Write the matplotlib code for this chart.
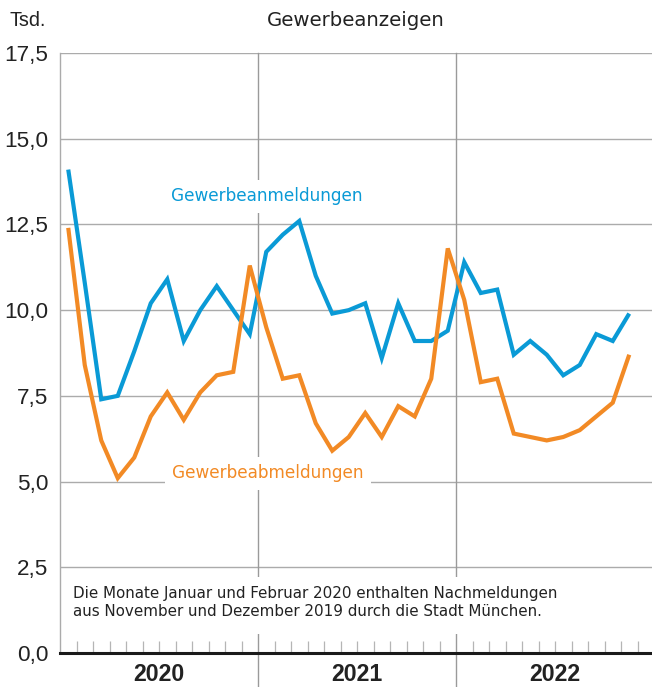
import matplotlib
matplotlib.use("Agg")
import matplotlib.pyplot as plt
import numpy as np
from matplotlib.patches import Rectangle

# ---------------- data ----------------
years = ["2020", "2021", "2022"]
anmeldungen = [14.1, 10.8, 7.4, 7.5, 8.8, 10.2, 10.9, 9.1, 10.0, 10.7, 10.0, 9.3,
               11.7, 12.2, 12.6, 11.0, 9.9, 10.0, 10.2, 8.6, 10.2, 9.1, 9.1, 9.4,
               11.4, 10.5, 10.6, 8.7, 9.1, 8.7, 8.1, 8.4, 9.3, 9.1, 9.9]
abmeldungen = [12.4, 8.4, 6.2, 5.1, 5.7, 6.9, 7.6, 6.8, 7.6, 8.1, 8.2, 11.3,
               9.5, 8.0, 8.1, 6.7, 5.9, 6.3, 7.0, 6.3, 7.2, 6.9, 8.0, 11.8,
               10.3, 7.9, 8.0, 6.4, 6.3, 6.2, 6.3, 6.5, 6.9, 7.3, 8.7]
yticks = [0.0, 2.5, 5.0, 7.5, 10.0, 12.5, 15.0, 17.5]
ytick_labels = ["0,0", "2,5", "5,0", "7,5", "10,0", "12,5", "15,0", "17,5"]
title = "Gewerbeanzeigen"
unit = "Tsd."
label_an = "Gewerbeanmeldungen"
label_ab = "Gewerbeabmeldungen"
note = ("Die Monate Januar und Februar 2020 enthalten Nachmeldungen\n"
        "aus November und Dezember 2019 durch die Stadt München.")

# ---------------- style ----------------
BLUE = "#0a9ad6"
ORANGE = "#f28a25"
GRID = "#ababab"
DIV = "#9a9a9a"
TXT = "#222222"
WORD_FONT = ["DejaVu Sans"]
NUM_FONT = ["Liberation Sans", "DejaVu Sans"]

W, H = 652, 687
fig = plt.figure(figsize=(W / 100, H / 100), dpi=100)
fig.patch.set_facecolor("white")

ax_left, ax_right, ax_top, ax_bottom = 60, 654, 53, 653
ax = fig.add_axes([ax_left / W, (H - ax_bottom) / H,
                   (ax_right - ax_left) / W, (ax_bottom - ax_top) / H])
n_months = 12 * len(years)
ax.set_xlim(0, n_months)
ax.set_ylim(0, 17.5)
ax.set_facecolor("white")

# spines
for s in ["top", "right"]:
    ax.spines[s].set_visible(False)
ax.spines["left"].set_color(GRID)
ax.spines["left"].set_linewidth(1.0)
ax.spines["bottom"].set_color("#1a1a1a")
ax.spines["bottom"].set_linewidth(2.2)
ax.spines["bottom"].set_zorder(6)

# horizontal grid
for v in yticks[1:]:
    ax.axhline(v, color=GRID, lw=1.0, zorder=1)

# year dividers (extend below axis)
ext = (H - ax_bottom) / (ax_bottom - ax_top)
for k in range(1, len(years)):
    ax.axvline(12 * k, ymin=-ext, ymax=1, color=DIV, lw=1.0, zorder=1, clip_on=False)

# y ticks
ax.set_yticks(yticks)
ax.set_yticklabels(ytick_labels, fontfamily=NUM_FONT, fontsize=16.2, color=TXT)
ax.tick_params(axis="y", length=0, pad=8.5)

# month ticks
month_ticks = [m for m in range(1, n_months) if m % 12 != 0]
ax.set_xticks(month_ticks)
ax.set_xticklabels([])
ax.tick_params(axis="x", direction="in", length=9, width=0.9, color="#b5b5b5")

# year labels
for k, y in enumerate(years):
    ax.text(12 * k + 6, -0.036, y, transform=ax.get_xaxis_transform(),
            ha="center", va="center", fontfamily=NUM_FONT, fontweight="bold",
            fontsize=16.7, color=TXT, clip_on=False)

# series
x = np.arange(len(anmeldungen)) + 0.5
ax.plot(x, anmeldungen, color=BLUE, lw=3.0, solid_joinstyle="miter",
        solid_capstyle="butt", zorder=5)
ax.plot(np.arange(len(abmeldungen)) + 0.5, abmeldungen, color=ORANGE, lw=3.0,
        solid_joinstyle="miter", solid_capstyle="butt", zorder=5)

# series labels with white background
ax.text(12.55, 13.32, label_an, color=BLUE, fontfamily=WORD_FONT, fontsize=12.2,
        ha="center", va="center", zorder=3,
        bbox=dict(boxstyle="square,pad=0.45", fc="white", ec="none"))
ax.text(12.6, 5.24, label_ab, color=ORANGE, fontfamily=WORD_FONT, fontsize=12.2,
        ha="center", va="center", zorder=3,
        bbox=dict(boxstyle="square,pad=0.45", fc="white", ec="none"))

# note with white background
ax.add_patch(Rectangle(((66 - ax_left) / 16.5, (ax_bottom - 634) / (600 / 17.5)),
                       (565 - 66) / 16.5, (634 - 577) / (600 / 17.5),
                       fc="white", ec="none", zorder=2))
fig.text(73 / W, 1 - 602.5 / H, note, ha="left", va="center",
         fontfamily=WORD_FONT, fontsize=10.9, color=TXT, linespacing=1.25, zorder=4)

# title and unit
fig.text(356 / W, 1 - 21 / H, title, ha="center", va="center",
         fontfamily=WORD_FONT, fontsize=14.2, color=TXT)
fig.text(9 / W, 1 - 21 / H, unit, ha="left", va="center",
         fontfamily=NUM_FONT, fontsize=14.2, color=TXT)

fig.savefig("out.png", dpi=100, facecolor="white")
